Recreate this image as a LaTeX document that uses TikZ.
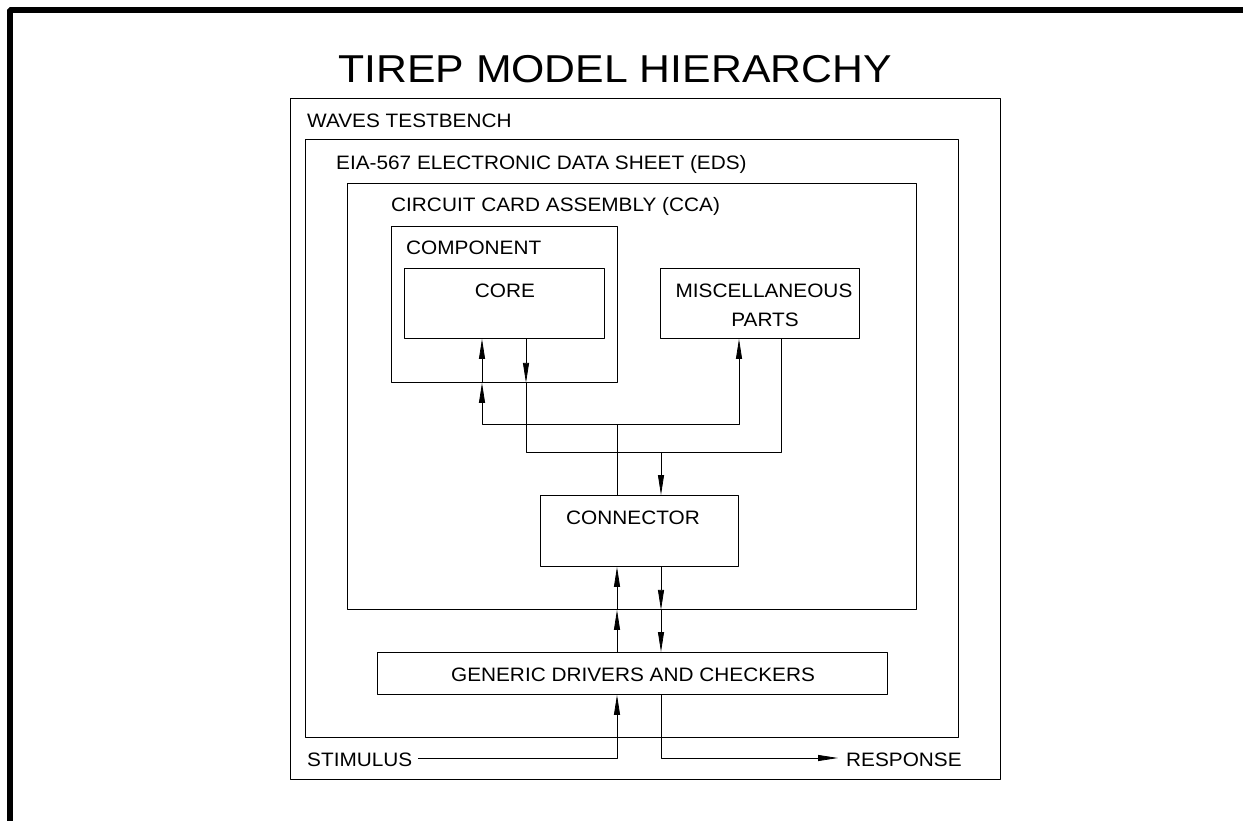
\documentclass[tikz,border=0pt]{standalone}
\usepackage{fontspec}
\setmainfont{Liberation Sans}
\newfontfamily\cadfont[FakeStretch=1.07]{Liberation Sans}
\newfontfamily\cadtitlefont[FakeStretch=1.1]{Liberation Sans}
\usetikzlibrary{arrows.meta}

\begin{document}
\begin{tikzpicture}[x=1bp,y=-1bp,>={Triangle[length=20bp,width=6bp]},line join=bevel,
  box/.style={draw,line width=0.9bp,inner sep=0pt,anchor=north west},
  txt/.style={inner sep=0pt,font=\cadfont\fontsize{19.5}{20}\selectfont},
  wire/.style={black,line width=0.8bp}]
\useasboundingbox (0,0) rectangle (1243,821);
%% sheet frame
\draw [line width=6bp] (10,824) -- (10,10) -- (1246,10);
\node (node_title) at (615,83) [inner sep=0pt,anchor=base,font=\cadtitlefont\fontsize{39}{40}\selectfont] {TIREP MODEL HIERARCHY};
%% boxes
\node (node_bench) at (290,98) [box,minimum width=710bp,minimum height=681bp] {};
  \node (node_eds) at (305,139) [box,minimum width=653bp,minimum height=598bp] {};
  \node (node_cca) at (347,183) [box,minimum width=569bp,minimum height=426bp] {};
  \node (node_component) at (391,226) [box,minimum width=226bp,minimum height=156bp] {};
  \node (node_core) at (404,268) [box,minimum width=200bp,minimum height=70bp] {};
  \node (node_misc) at (660,268) [box,minimum width=199bp,minimum height=70bp] {};
  \node (node_connector) at (540,495) [box,minimum width=198bp,minimum height=71bp] {};
  \node (node_generic) at (377,652) [box,minimum width=510bp,minimum height=42bp] {};
%% labels
\node (lbl_bench) at (307,127) [txt,anchor=base west] {WAVES TESTBENCH};
  \node (lbl_eds) at (336,169) [txt,anchor=base west] {EIA-567 ELECTRONIC DATA SHEET (EDS)};
  \node (lbl_cca) at (391,211) [txt,anchor=base west] {CIRCUIT CARD ASSEMBLY (CCA)};
  \node (lbl_component) at (406,254) [txt,anchor=base west] {COMPONENT};
  \node (lbl_core) at (505,297) [txt,anchor=base] {CORE};
  \node (lbl_misc) at (764,297) [txt,anchor=base] {MISCELLANEOUS};
  \node (lbl_parts) at (765,326) [txt,anchor=base] {PARTS};
  \node (lbl_connector) at (633,524) [txt,anchor=base] {CONNECTOR};
  \node (lbl_generic) at (633,681) [txt,anchor=base] {GENERIC DRIVERS AND CHECKERS};
  \node (node_stimulus) at (307,766) [txt,anchor=base west] {STIMULUS};
  \node (node_response) at (846,766) [txt,anchor=base west] {RESPONSE};
%% bus points
\coordinate (up_bus) at (617,424);
  \coordinate (dn_bus) at (661,452);
  \coordinate (core_in) at (482,424);
  \coordinate (misc_in) at (739,424);
  \coordinate (core_out) at (526,452);
  \coordinate (misc_out) at (781,452);
  \coordinate (stim_start) at (418,758);
  \coordinate (stim_in) at (617,758);
  \coordinate (resp_out) at (661,758);
  \coordinate (resp_end) at (838,758);
%% wires
\draw [wire] (node_connector.north -| up_bus) -- (up_bus);
  \draw [wire,->] (up_bus) -- (core_in) -- (core_in |- node_component.south);
  \draw [wire,->] (core_in |- node_component.south) -- (core_in |- node_core.south);
  \draw [wire,->] (up_bus) -- (misc_in) -- (misc_in |- node_misc.south);
  \draw [wire,->] (core_out |- node_core.south) -- (core_out |- node_component.south);
  \draw [wire] (core_out |- node_component.south) -- (core_out) -- (misc_out) -- (misc_out |- node_misc.south);
  \draw [wire,->] (dn_bus) -- (dn_bus |- node_connector.north);
  \draw [wire,->] (up_bus |- node_generic.north) -- (up_bus |- node_cca.south);
  \draw [wire,->] (up_bus |- node_cca.south) -- (up_bus |- node_connector.south);
  \draw [wire,->] (dn_bus |- node_connector.south) -- (dn_bus |- node_cca.south);
  \draw [wire,->] (dn_bus |- node_cca.south) -- (dn_bus |- node_generic.north);
  \draw [wire,->] (stim_start) -- (stim_in) -- (stim_in |- node_generic.south);
  \draw [wire,->] (resp_out |- node_generic.south) -- (resp_out) -- (resp_end);
%
\end{tikzpicture}
\end{document}
